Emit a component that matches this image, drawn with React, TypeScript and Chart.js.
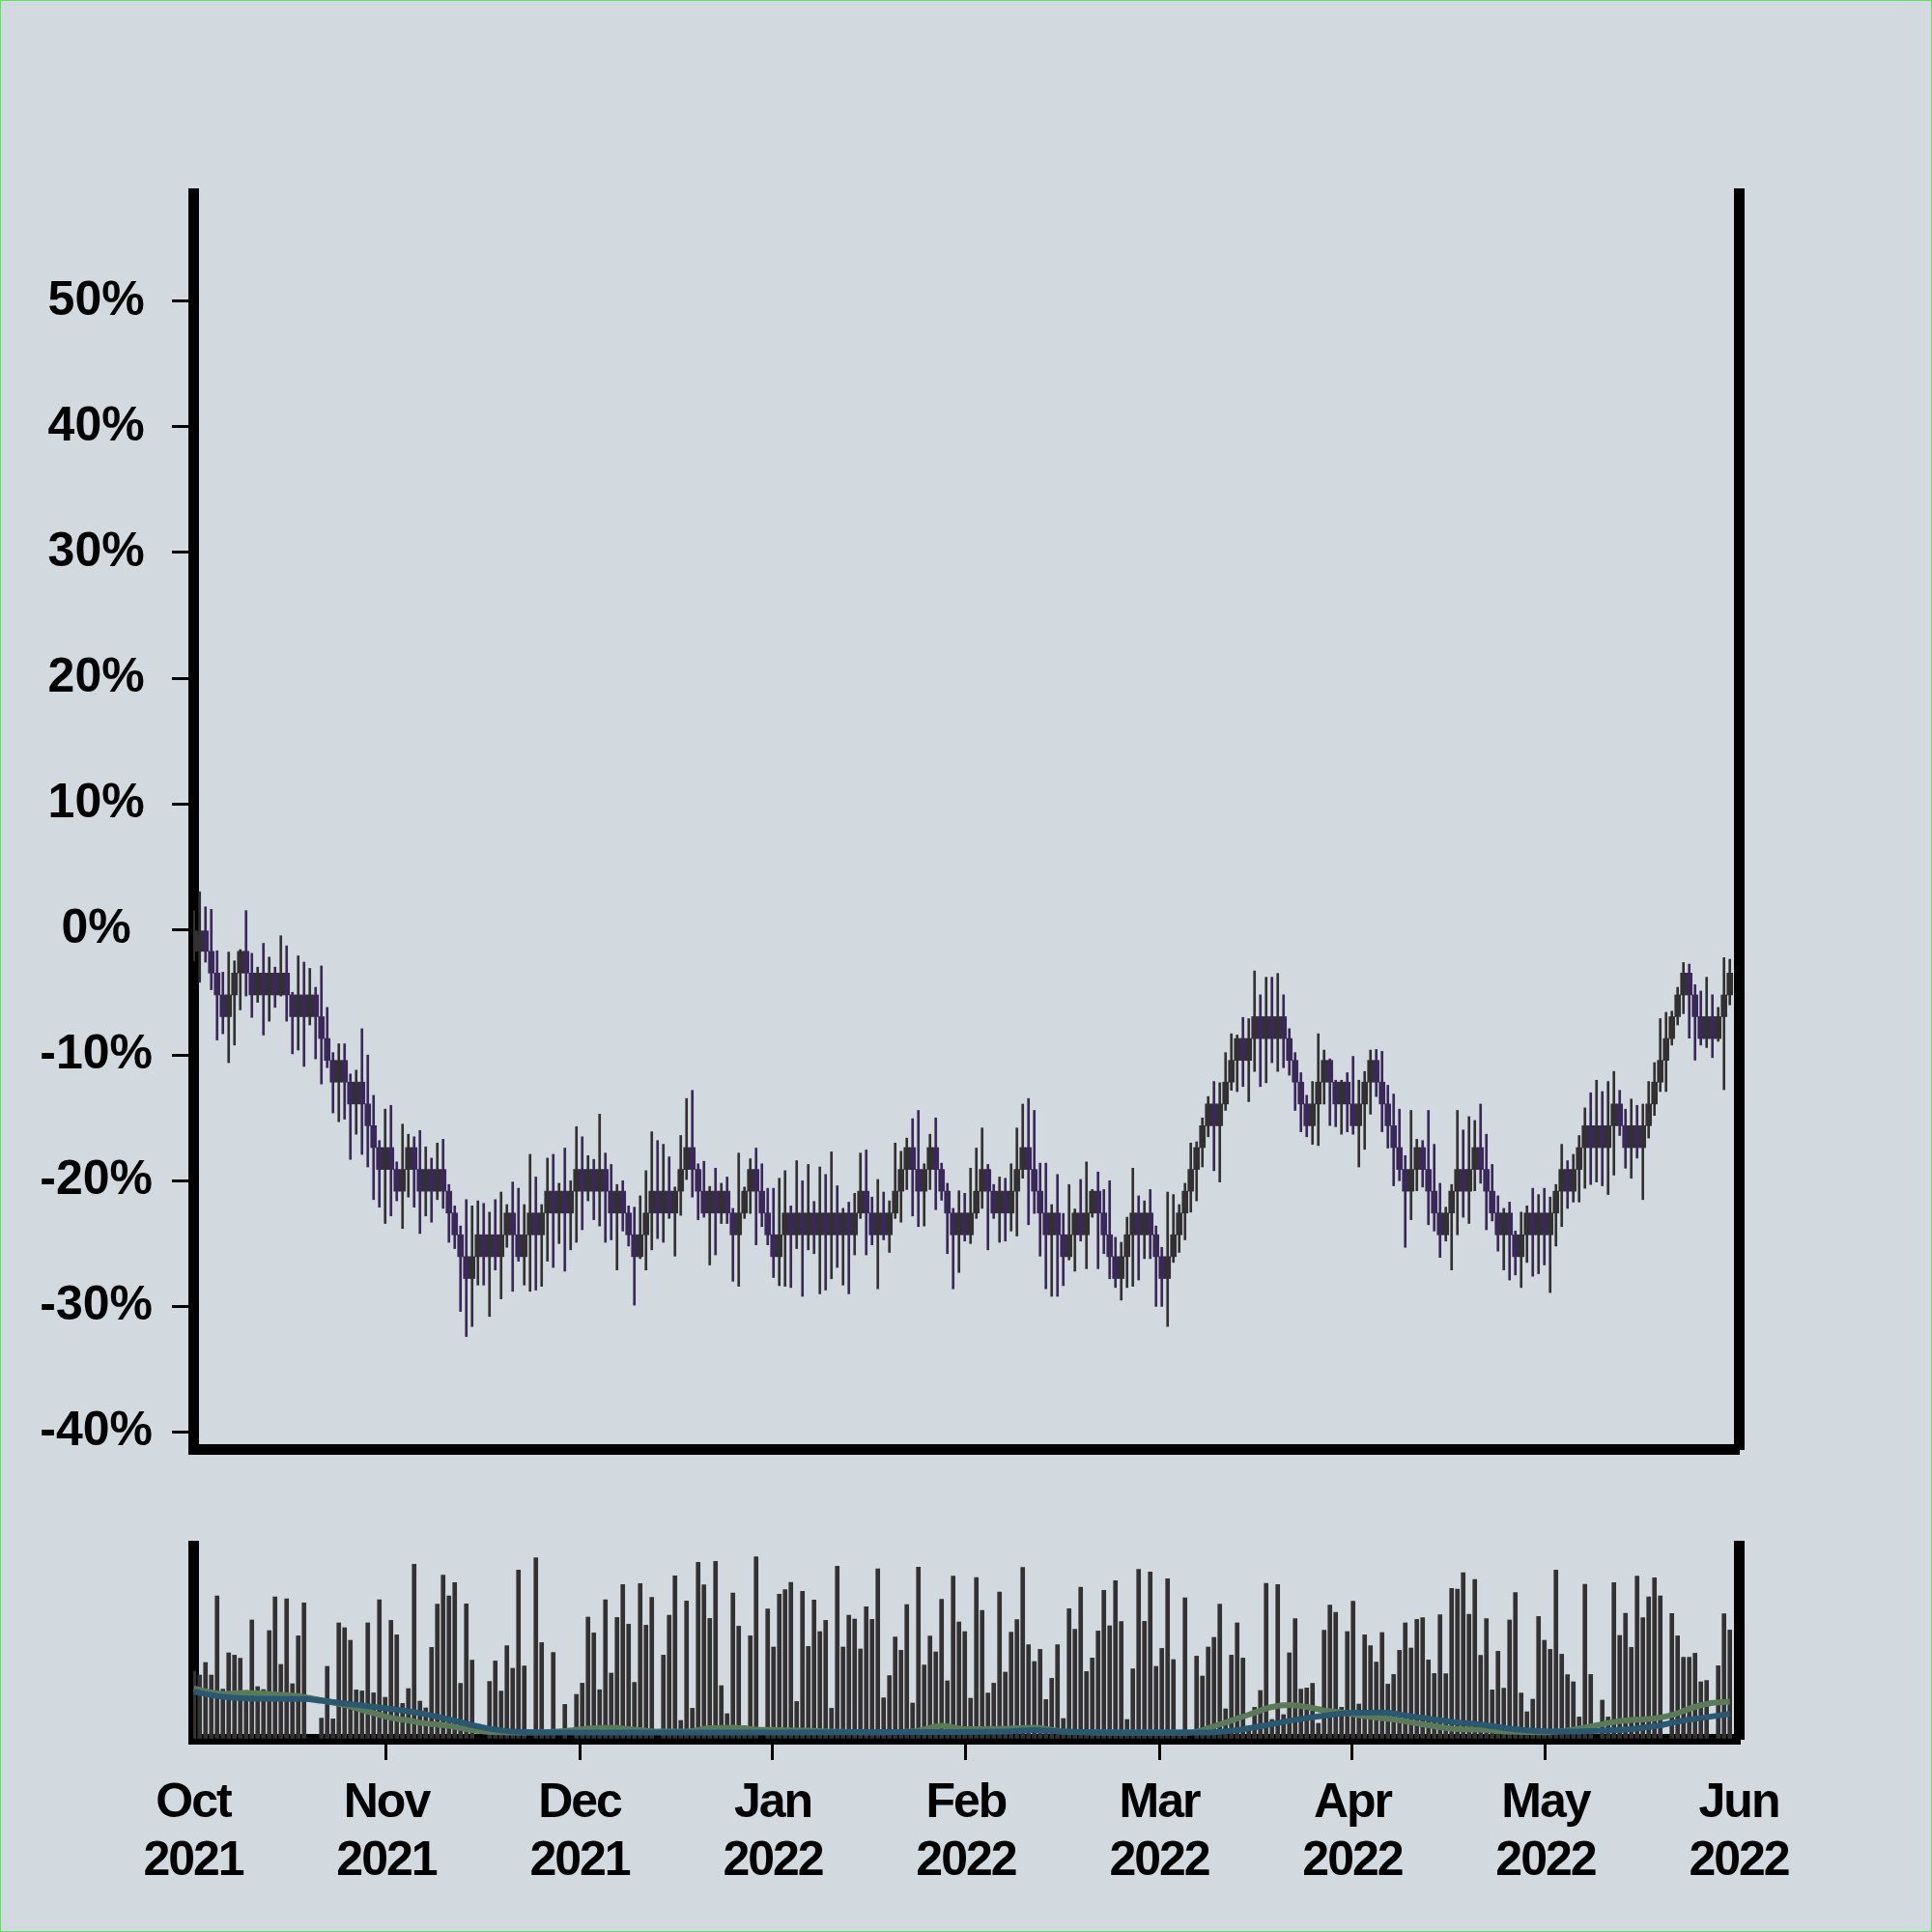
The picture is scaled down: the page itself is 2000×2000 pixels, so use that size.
import React, { useEffect, useRef } from 'react';
import { Chart, registerables } from 'chart.js';

Chart.register(...registerables);

// ---------------- data ----------------
const MONTH_LABELS = [
  ['Oct', '2021'], ['Nov', '2021'], ['Dec', '2021'], ['Jan', '2022'], ['Feb', '2022'],
  ['Mar', '2022'], ['Apr', '2022'], ['May', '2022'], ['Jun', '2022'],
];
const MONTH_POS = [-0.12, 33.21, 66.55, 99.88, 133.21, 166.55, 199.88, 233.21, 266.55];
const X_MIN = -0.12;
const X_MAX = 266.55;

const Y_TICKS = [-40, -30, -20, -10, 0, 10, 20, 30, 40, 50];
const Y_MIN = -41.35;
const Y_MAX = 58.6;
const VOL_MAX = 100;

const OPEN = [
  -1.74, -1.74, 0, -1.74, -3.47, -5.21, -6.94, -5.21, -3.47, -1.74,
  -3.47, -5.21, -3.47, -5.21, -3.47, -5.21, -3.47, -5.21, -6.94, -5.21,
  -6.94, -5.21, -6.94, -8.68, -10.42, -12.15, -10.42, -12.15, -13.89, -12.15,
  -13.89, -15.62, -17.36, -19.1, -17.36, -19.1, -20.83, -19.1, -17.36, -19.1,
  -20.83, -19.1, -20.83, -19.1, -20.83, -22.57, -24.3, -26.04, -27.78, -26.04,
  -24.3, -26.04, -24.3, -26.04, -24.3, -22.57, -24.3, -26.04, -24.3, -22.57,
  -24.3, -22.57, -20.83, -22.57, -20.83, -22.57, -20.83, -19.1, -20.83, -19.1,
  -20.83, -19.1, -20.83, -22.57, -20.83, -22.57, -24.3, -26.04, -24.3, -22.57,
  -20.83, -22.57, -20.83, -22.57, -20.83, -19.1, -17.36, -19.1, -20.83, -22.57,
  -20.83, -22.57, -20.83, -22.57, -24.3, -22.57, -20.83, -19.1, -20.83, -22.57,
  -24.3, -26.04, -24.3, -22.57, -24.3, -22.57, -24.3, -22.57, -24.3, -22.57,
  -24.3, -22.57, -24.3, -22.57, -24.3, -22.57, -20.83, -22.57, -24.3, -22.57,
  -24.3, -22.57, -20.83, -19.1, -17.36, -19.1, -20.83, -19.1, -17.36, -19.1,
  -20.83, -22.57, -24.3, -22.57, -24.3, -22.57, -20.83, -19.1, -20.83, -22.57,
  -20.83, -22.57, -20.83, -19.1, -17.36, -19.1, -20.83, -22.57, -24.3, -22.57,
  -24.3, -26.04, -24.3, -22.57, -24.3, -22.57, -20.83, -22.57, -24.3, -26.04,
  -27.78, -26.04, -24.3, -22.57, -24.3, -22.57, -24.3, -26.04, -27.78, -26.04,
  -24.3, -22.57, -20.83, -19.1, -17.36, -15.62, -13.89, -15.62, -13.89, -12.15,
  -10.42, -8.68, -10.42, -8.68, -6.94, -8.68, -6.94, -8.68, -6.94, -8.68,
  -10.42, -12.15, -13.89, -15.62, -13.89, -12.15, -10.42, -12.15, -13.89, -12.15,
  -13.89, -15.62, -13.89, -12.15, -10.42, -12.15, -13.89, -15.62, -17.36, -19.1,
  -20.83, -19.1, -17.36, -19.1, -20.83, -22.57, -24.3, -22.57, -20.83, -19.1,
  -20.83, -19.1, -17.36, -19.1, -20.83, -22.57, -24.3, -22.57, -24.3, -26.04,
  -24.3, -22.57, -24.3, -22.57, -24.3, -22.57, -20.83, -19.1, -20.83, -19.1,
  -17.36, -15.62, -17.36, -15.62, -17.36, -15.62, -13.89, -15.62, -17.36, -15.62,
  -17.36, -15.62, -13.89, -12.15, -10.42, -8.68, -6.94, -5.21, -3.47, -5.21,
  -6.94, -8.68, -6.94, -8.68, -6.94, -5.21,
];

const CLOSE = [
  0, 0, -1.74, -3.47, -5.21, -6.94, -5.21, -3.47, -1.74, -3.47,
  -5.21, -3.47, -5.21, -3.47, -5.21, -3.47, -5.21, -6.94, -5.21, -6.94,
  -5.21, -6.94, -8.68, -10.42, -12.15, -10.42, -12.15, -13.89, -12.15, -13.89,
  -15.62, -17.36, -19.1, -17.36, -19.1, -20.83, -19.1, -17.36, -19.1, -20.83,
  -19.1, -20.83, -19.1, -20.83, -22.57, -24.3, -26.04, -27.78, -26.04, -24.3,
  -26.04, -24.3, -26.04, -24.3, -22.57, -24.3, -26.04, -24.3, -22.57, -24.3,
  -22.57, -20.83, -22.57, -20.83, -22.57, -20.83, -19.1, -20.83, -19.1, -20.83,
  -19.1, -20.83, -22.57, -20.83, -22.57, -24.3, -26.04, -24.3, -22.57, -20.83,
  -22.57, -20.83, -22.57, -20.83, -19.1, -17.36, -19.1, -20.83, -22.57, -20.83,
  -22.57, -20.83, -22.57, -24.3, -22.57, -20.83, -19.1, -20.83, -22.57, -24.3,
  -26.04, -24.3, -22.57, -24.3, -22.57, -24.3, -22.57, -24.3, -22.57, -24.3,
  -22.57, -24.3, -22.57, -24.3, -22.57, -20.83, -22.57, -24.3, -22.57, -24.3,
  -22.57, -20.83, -19.1, -17.36, -19.1, -20.83, -19.1, -17.36, -19.1, -20.83,
  -22.57, -24.3, -22.57, -24.3, -22.57, -20.83, -19.1, -20.83, -22.57, -20.83,
  -22.57, -20.83, -19.1, -17.36, -19.1, -20.83, -22.57, -24.3, -22.57, -24.3,
  -26.04, -24.3, -22.57, -24.3, -22.57, -20.83, -22.57, -24.3, -26.04, -27.78,
  -26.04, -24.3, -22.57, -24.3, -22.57, -24.3, -26.04, -27.78, -26.04, -24.3,
  -22.57, -20.83, -19.1, -17.36, -15.62, -13.89, -15.62, -13.89, -12.15, -10.42,
  -8.68, -10.42, -8.68, -6.94, -8.68, -6.94, -8.68, -6.94, -8.68, -10.42,
  -12.15, -13.89, -15.62, -13.89, -12.15, -10.42, -12.15, -13.89, -12.15, -13.89,
  -15.62, -13.89, -12.15, -10.42, -12.15, -13.89, -15.62, -17.36, -19.1, -20.83,
  -19.1, -17.36, -19.1, -20.83, -22.57, -24.3, -22.57, -20.83, -19.1, -20.83,
  -19.1, -17.36, -19.1, -20.83, -22.57, -24.3, -22.57, -24.3, -26.04, -24.3,
  -22.57, -24.3, -22.57, -24.3, -22.57, -20.83, -19.1, -20.83, -19.1, -17.36,
  -15.62, -17.36, -15.62, -17.36, -15.62, -13.89, -15.62, -17.36, -15.62, -17.36,
  -15.62, -13.89, -12.15, -10.42, -8.68, -6.94, -5.21, -3.47, -5.21, -6.94,
  -8.68, -6.94, -8.68, -6.94, -5.21, -3.47,
];

const HIGH = [
  1.5, 3.0, 1.8, 1.6, -1.7, -3.4, -1.8, -2.5, -1.6, 1.5,
  -1.9, -3.0, -1.1, -2.2, -3.0, -0.5, -1.3, -5.0, -2.1, -2.6,
  -3.1, -4.6, -2.9, -6.2, -9.8, -9.1, -9.1, -11.5, -11.2, -7.9,
  -10.0, -13.2, -16.8, -14.3, -14.0, -18.5, -15.5, -16.3, -16.5, -16.0,
  -17.3, -18.2, -17.0, -16.7, -20.3, -22.0, -23.6, -21.5, -22.0, -21.6,
  -21.8, -22.5, -21.5, -20.9, -21.9, -20.1, -20.6, -21.9, -17.9, -19.7,
  -21.9, -18.2, -17.9, -20.2, -17.4, -20.0, -15.7, -16.5, -18.0, -18.3,
  -14.7, -17.8, -18.7, -20.3, -20.0, -22.0, -22.1, -21.2, -19.2, -16.1,
  -16.8, -17.1, -18.1, -20.5, -16.4, -13.45, -12.8, -18.65, -18.45, -20.45,
  -19.0, -20.2, -19.7, -22.2, -17.8, -20.5, -18.25, -17.4, -18.65, -20.6,
  -20.6, -19.8, -19.2, -22.0, -18.4, -20.0, -18.7, -21.65, -18.9, -19.5,
  -17.7, -20.4, -22.2, -21.7, -21.0, -17.8, -17.55, -21.3, -19.9, -20.9,
  -21.6, -17.0, -17.65, -16.6, -15.06, -14.4, -18.65, -16.3, -15.0, -18.6,
  -20.2, -22.2, -20.8, -21.0, -19.0, -17.4, -15.8, -18.7, -20.3, -19.7,
  -19.8, -18.65, -15.8, -13.9, -13.45, -14.4, -18.6, -18.6, -21.9, -19.5,
  -22.6, -20.3, -22.25, -19.9, -18.5, -20.7, -19.3, -20.7, -20.0, -24.5,
  -24.9, -22.9, -19.0, -21.2, -21.6, -20.7, -23.6, -25.3, -20.9, -21.1,
  -21.9, -20.2, -17.0, -16.9, -15.0, -13.3, -12.1, -12.2, -9.8, -8.3,
  -8.4, -7.0, -7.1, -3.3, -5.2, -3.8, -3.8, -3.5, -5.2, -7.9,
  -9.8, -11.4, -13.2, -12.1, -8.3, -9.6, -10.3, -12.0, -12.0, -11.4,
  -10.1, -12.0, -11.3, -9.6, -9.55, -9.7, -12.4, -13.1, -14.3, -18.0,
  -14.4, -16.7, -16.8, -14.4, -17.1, -20.2, -22.1, -20.3, -14.4, -15.96,
  -14.9, -15.2, -13.9, -16.3, -18.7, -21.2, -22.2, -21.7, -24.0, -22.5,
  -22.0, -20.6, -21.1, -20.6, -21.3, -20.3, -17.1, -18.4, -17.9, -16.4,
  -14.2, -13.0, -12.0, -12.9, -12.1, -11.3, -12.8, -14.3, -13.5, -14.0,
  -13.9, -12.1, -10.6, -7.1, -6.6, -6.5, -4.6, -2.63, -2.76, -4.4,
  -4.9, -3.8, -5.2, -6.2, -2.24, -2.37,
];

const LOW = [
  -2.5, -4.2, -2.6, -4.8, -8.8, -8.3, -10.6, -9.2, -6.4, -5.3,
  -7.0, -5.8, -8.4, -7.3, -6.2, -5.3, -7.3, -9.9, -9.6, -10.9,
  -7.6, -10.3, -12.3, -11.0, -14.6, -15.3, -15.1, -18.3, -16.3, -17.9,
  -18.9, -21.5, -22.1, -23.4, -22.8, -21.6, -23.8, -21.3, -22.1, -24.2,
  -22.8, -23.3, -21.5, -22.2, -24.9, -25.4, -30.4, -32.4, -31.6, -28.3,
  -28.3, -30.8, -27.1, -29.4, -25.3, -28.8, -26.4, -28.3, -28.8, -28.7,
  -28.4, -26.4, -26.9, -25.0, -27.2, -25.5, -24.9, -23.9, -21.6, -23.1,
  -23.6, -24.9, -24.7, -27.1, -24.0, -25.2, -29.9, -26.2, -27.1, -25.5,
  -24.6, -24.9, -23.0, -26.0, -22.75, -19.9, -21.3, -23.1, -22.9, -26.7,
  -25.9, -23.4, -23.4, -28.0, -28.4, -23.0, -22.6, -25.1, -23.65, -25.1,
  -27.7, -28.35, -28.4, -28.5, -25.4, -29.2, -25.5, -25.8, -29.0, -28.7,
  -27.8, -26.9, -28.3, -29.0, -25.9, -23.0, -25.9, -25.1, -28.6, -24.7,
  -25.7, -23.0, -23.3, -20.7, -22.8, -23.65, -23.6, -20.7, -22.3, -21.55,
  -25.8, -28.6, -27.3, -24.8, -25.0, -23.0, -22.2, -25.5, -23.0, -24.9,
  -24.8, -24.0, -24.4, -19.8, -23.5, -22.6, -26.0, -28.6, -29.2, -29.2,
  -28.35, -26.3, -27.2, -24.8, -27.0, -22.9, -27.0, -25.8, -27.8, -28.5,
  -29.5, -28.5, -28.4, -27.9, -26.2, -26.2, -30.0, -30.0, -31.6, -26.5,
  -25.7, -24.7, -22.5, -21.6, -18.9, -16.5, -19.2, -20.1, -14.4, -12.8,
  -12.9, -12.5, -13.7, -11.3, -12.5, -12.2, -10.6, -11.3, -11.0, -11.6,
  -14.4, -16.1, -16.5, -17.1, -17.2, -13.9, -15.6, -15.7, -16.3, -16.1,
  -16.3, -18.9, -17.5, -14.7, -13.3, -16.1, -17.4, -20.4, -20.0, -25.3,
  -23.1, -20.8, -20.5, -23.5, -24.0, -26.1, -24.8, -27.1, -24.3, -22.9,
  -23.4, -20.8, -20.2, -23.9, -23.2, -25.6, -27.1, -27.9, -27.5, -28.5,
  -26.5, -27.6, -27.4, -26.7, -28.9, -25.2, -23.65, -22.2, -21.7, -21.7,
  -20.6, -20.3, -20.1, -20.4, -21.1, -19.55, -16.4, -19.0, -19.8, -18.2,
  -21.5, -16.6, -14.8, -12.9, -12.9, -9.2, -7.6, -6.7, -8.65, -10.4,
  -9.2, -9.4, -10.2, -8.9, -12.75, -6.0,
];

const VOLUME = [
  35, 33, 39.5, 33, 74, 25.7, 44.5, 43.3, 41.7, 25,
  61.5, 27, 25.5, 56, 73.5, 38.5, 72.5, 28.5, 53.3, 70.3,
  0, 0, 10.7, 37.5, 10.3, 60, 57.5, 51, 25.3, 24.8,
  60, 23.8, 72, 21.5, 61.3, 53.8, 18.3, 26, 90.3, 19.5,
  16, 47.3, 69.7, 84.7, 74, 80.8, 28.7, 69.8, 40.7, 0,
  0, 29.7, 40.3, 24.7, 48.2, 36.5, 87.3, 37.7, 0, 93.7,
  49.8, 4.2, 44.7, 0, 17.8, 0, 23, 28.8, 63, 54.8,
  25.4, 72, 34, 62.8, 79.8, 59.3, 29.2, 80.3, 58.8, 73.2,
  0, 43.3, 64, 84.3, 9.5, 71.3, 15.8, 91.3, 79.7, 62.3,
  91.8, 27.5, 13, 75.5, 58.3, 6.7, 53.3, 94.2, 0, 67.2,
  47.5, 74.8, 77.2, 81, 19.3, 76.3, 47.8, 71.8, 55.5, 61.3,
  15.8, 89.3, 47.5, 64, 62, 46.5, 68.3, 61.8, 88, 21.2,
  32.7, 52.7, 45.8, 69.5, 18.5, 88.8, 38.2, 53.2, 45, 72.2,
  30, 84.2, 60.5, 55.5, 21, 83.5, 66.5, 23.7, 28.8, 76,
  34.5, 55.2, 61.7, 88.7, 48.7, 40, 46.3, 20.3, 31.3, 48.7,
  10.5, 67.3, 56.7, 78.5, 34.8, 41.8, 55.8, 76.8, 58.5, 81.8,
  60.7, 10, 36.2, 87.7, 60.8, 86.3, 37.5, 46.8, 82.8, 41,
  3.8, 73, 0, 42.8, 32.5, 47.5, 52.5, 69.7, 15.5, 43.3,
  60, 41.8, 6.7, 16.3, 25, 80.5, 10, 79.8, 12.5, 44.5,
  62.2, 25.7, 26.3, 28.7, 8, 56.2, 69.2, 65.5, 16.3, 55.5,
  71.2, 18, 53.8, 48.2, 39.7, 55, 28.3, 33.3, 45.8, 60,
  47, 61.8, 62.7, 40.8, 33.8, 64.2, 33.7, 77.8, 77.5, 86,
  64.5, 82.5, 43.2, 62.2, 25.3, 45.3, 26.2, 61.5, 75.7, 23.7,
  14, 20.5, 63.3, 51, 46.3, 87.3, 43.8, 33.2, 29.5, 11.3,
  80, 33.3, 0, 20, 11.3, 80.8, 53.5, 65, 47.3, 84.2,
  62.7, 73.5, 83.3, 74, 0, 64.8, 53.3, 42.2, 42.2, 44.3,
  29.5, 30.2, 0, 37.8, 64.7, 56.3,
];

const BLUE_IDX = [0, 1, 5, 9, 19, 22, 26, 29, 34, 39, 44, 50, 55, 60, 80, 100, 120, 140, 145, 150,
  160, 175, 180, 185, 190, 195, 200, 205, 210, 217, 222, 227, 232, 238, 243, 248, 253, 257, 261, 265];
const BLUE_VAL = [24.5, 23.8, 21.7, 20.9, 20.6, 19.7, 18.3, 17.2, 15.5, 13.3, 10, 5.8, 3.7, 3.3, 3.3, 3.3, 3.5, 3.8, 4.5, 3.8,
  3.3, 3.3, 4.5, 7, 9.8, 12, 13.5, 13.6, 11.7, 8.8, 7.4, 5.2, 4.0, 3.7, 4.2, 5.0, 7, 9.5, 11.2, 12.9];

const GREEN_IDX = [0, 1, 5, 9, 15, 19, 22, 26, 29, 34, 37, 39, 44, 47, 50, 58, 61, 64, 68, 72,
  76, 80, 85, 89, 93, 97, 101, 106, 110, 116, 121, 125, 129, 133, 140, 145, 150, 160, 172, 177,
  182, 186, 189, 192, 195, 198, 202, 207, 212, 217, 222, 227, 233, 237, 240, 245, 248, 252, 255, 259, 262, 265];
const GREEN_VAL = [26, 25.3, 23.3, 23.7, 22.8, 21.7, 20, 17.5, 15, 10.8, 9.5, 8.3, 6.7, 5, 3.8, 3.3, 3.5, 4, 5.3, 5.8,
  4.8, 3.7, 3.8, 5.5, 5.8, 4.8, 4.5, 4.2, 3.7, 3.4, 3.5, 4.2, 6.7, 5.0, 5.2, 5.8, 3.8, 3.3, 3.3, 7.5,
  12.5, 16.5, 17.5, 16.5, 14.7, 13.7, 11.7, 10, 7.5, 5.3, 4.7, 3.7, 3.4, 4.3, 5.8, 8.7, 9.7, 10.5, 12.3, 16.5, 18.6, 19.2];

// ---------------- style ----------------
const BG = '#d2dae0';
const UP_COLOR = '#323031';
const DOWN_COLOR = '#3a2859';
const VOL_COLOR = '#333132';
const BLUE = '#285872';
const GREEN = '#5b7b58';
const FONT_FAMILY = "'Liberation Sans', Arial, Helvetica, sans-serif";
const SPINE = 11;
const MAIN_H = 1560;

const candleColor = (c: any) =>
  CLOSE[c.dataIndex] >= OPEN[c.dataIndex] ? UP_COLOR : DOWN_COLOR;

export default function App() {
  const mainRef = useRef<HTMLCanvasElement>(null);
  const volRef = useRef<HTMLCanvasElement>(null);

  useEffect(() => {
    const idx = OPEN.map((_, i) => i);
    const bodies = idx.map((i) => ({ x: i, y: [OPEN[i], CLOSE[i]] }));
    const wicks = idx.map((i) => ({ x: i, y: [LOW[i], HIGH[i]] }));

    const main = new Chart(mainRef.current as HTMLCanvasElement, {
      type: 'bar',
      data: {
        datasets: [
          { data: bodies as any, backgroundColor: candleColor, barThickness: 6, grouped: false, order: 0, borderWidth: 0 } as any,
          { data: wicks as any, backgroundColor: candleColor, barThickness: 2, grouped: false, order: 1, borderWidth: 0 } as any,
        ],
      },
      options: {
        animation: false,
        responsive: false,
        devicePixelRatio: 1,
        layout: { padding: { top: 200, left: 0, right: 0, bottom: 0 } },
        plugins: { legend: { display: false }, tooltip: { enabled: false } },
        scales: {
          x: {
            type: 'linear', min: X_MIN, max: X_MAX, bounds: 'data', offset: false, position: 'bottom', z: 1,
            grid: { display: true, drawOnChartArea: false, drawTicks: false, offset: false },
            border: { display: true, width: SPINE, color: '#000' },
            ticks: { display: false },
            afterFit: (s: any) => { s.height = 60; },
          },
          y: {
            type: 'linear', position: 'left', min: Y_MIN, max: Y_MAX, bounds: 'data', z: 1,
            afterBuildTicks: (s: any) => { s.ticks = Y_TICKS.map((v) => ({ value: v })); },
            afterFit: (s: any) => { s.width = 200; },
            grid: { display: true, drawOnChartArea: false, drawTicks: true, tickLength: 22, lineWidth: 3, tickColor: '#000' },
            border: { display: true, width: SPINE, color: '#000' },
            ticks: {
              padding: 20, crossAlign: 'center', color: '#000',
              font: { family: FONT_FAMILY, size: 50, weight: 'bold' },
              callback: (v: any) => `${v}%`,
            },
          },
          yR: {
            type: 'linear', position: 'right', min: Y_MIN, max: Y_MAX, bounds: 'data', z: 1,
            afterFit: (s: any) => { s.width = 200; },
            grid: { display: true, drawOnChartArea: false, drawTicks: false },
            border: { display: true, width: SPINE, color: '#000' },
            ticks: { display: false },
          },
        },
      } as any,
    });

    const spacing = {
      id: 'labelSpacing',
      beforeDraw: (chart: any) => { chart.ctx.letterSpacing = '-2px'; },
    };

    const vol = new Chart(volRef.current as HTMLCanvasElement, {
      type: 'bar',
      data: {
        datasets: [
          {
            type: 'line', data: BLUE_IDX.map((x, k) => ({ x, y: BLUE_VAL[k] })),
            borderColor: BLUE, borderWidth: 6, pointRadius: 0, cubicInterpolationMode: 'monotone', order: 0,
          } as any,
          {
            type: 'line', data: GREEN_IDX.map((x, k) => ({ x, y: GREEN_VAL[k] })),
            borderColor: GREEN, borderWidth: 6, pointRadius: 0, cubicInterpolationMode: 'monotone', order: 1,
          } as any,
          {
            type: 'bar', data: VOLUME.map((v, i) => ({ x: i, y: v })),
            backgroundColor: VOL_COLOR, barThickness: 4, grouped: false, borderWidth: 0, order: 2,
          } as any,
        ],
      },
      options: {
        animation: false,
        responsive: false,
        devicePixelRatio: 1,
        layout: { padding: { top: 1600 - MAIN_H, left: 0, right: 0, bottom: 0 } },
        plugins: { legend: { display: false }, tooltip: { enabled: false } },
        scales: {
          x: {
            type: 'linear', min: X_MIN, max: X_MAX, bounds: 'data', offset: false, position: 'bottom', z: 1,
            afterBuildTicks: (s: any) => { s.ticks = MONTH_POS.map((v) => ({ value: v })); },
            afterFit: (s: any) => { s.height = 200; },
            grid: {
              display: true, drawOnChartArea: false, drawTicks: true, tickLength: 22, lineWidth: 3, offset: false,
              tickColor: (c: any) => (c.index === 0 || c.index === MONTH_POS.length - 1 ? 'rgba(0,0,0,0)' : '#000'),
            },
            border: { display: true, width: SPINE, color: '#000' },
            ticks: {
              padding: 15, maxRotation: 0, minRotation: 0, autoSkip: false, color: '#000',
              font: { family: FONT_FAMILY, size: 50, weight: 'bold', lineHeight: 1.2 },
              callback: (_v: any, i: number) => MONTH_LABELS[i],
            },
          },
          y: {
            type: 'linear', position: 'left', min: 0, max: VOL_MAX, bounds: 'data', z: 1,
            afterFit: (s: any) => { s.width = 200; },
            grid: { display: true, drawOnChartArea: false, drawTicks: false },
            border: { display: true, width: SPINE, color: '#000' },
            ticks: { display: false },
          },
          yR: {
            type: 'linear', position: 'right', min: 0, max: VOL_MAX, bounds: 'data', z: 1,
            afterFit: (s: any) => { s.width = 200; },
            grid: { display: true, drawOnChartArea: false, drawTicks: false },
            border: { display: true, width: SPINE, color: '#000' },
            ticks: { display: false },
          },
        },
      } as any,
      plugins: [spacing],
    });

    return () => { main.destroy(); vol.destroy(); };
  }, []);

  return (
    <div
      style={{
        position: 'absolute', left: 0, top: 0, width: 2000, height: 2000,
        background: BG, boxShadow: 'inset 0 0 0 1px #5fe35f', overflow: 'hidden',
      }}
    >
      <canvas ref={mainRef} width={2000} height={MAIN_H}
        style={{ position: 'absolute', left: 0, top: 0, width: 2000, height: MAIN_H }} />
      <canvas ref={volRef} width={2000} height={2000 - MAIN_H}
        style={{ position: 'absolute', left: 0, top: MAIN_H, width: 2000, height: 2000 - MAIN_H }} />
    </div>
  );
}
